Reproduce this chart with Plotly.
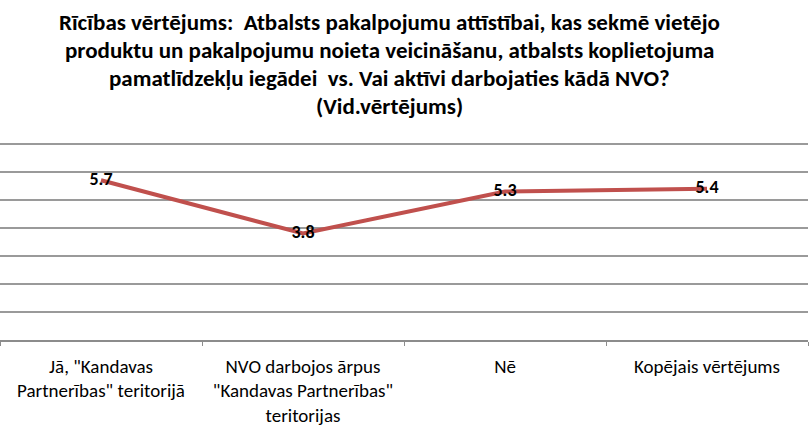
import plotly.graph_objects as go

categories = [
    'Jā, "Kandavas<br>Partnerības" teritorijā',
    'NVO darbojos ārpus<br>"Kandavas Partnerības"<br>teritorijas',
    'Nē',
    'Kopējais vērtējums',
]
values = [5.7, 3.8, 5.3, 5.4]
title_lines = [
    "Rīcības vērtējums:  Atbalsts pakalpojumu attīstībai, kas sekmē vietējo",
    "produktu un pakalpojumu noieta veicināšanu, atbalsts koplietojuma",
    "pamatlīdzekļu iegādei  vs. Vai aktīvi darbojaties kādā NVO?",
    "(Vid.vērtējums)",
]

FONT = "Carlito, 'Liberation Sans Narrow', 'Open Sans', sans-serif"
T, B = 141, 85
PH = 425 - T - B

fig = go.Figure()
fig.add_trace(go.Scatter(
    x=categories, y=values, mode="lines+text",
    line=dict(color="#C0504D", width=4),
    text=[f"{v:.1f}" for v in values],
    textposition="middle center",
    textfont=dict(family=FONT, size=18, color="black", weight="bold"),
    cliponaxis=False, hoverinfo="skip",
))

for i, line in enumerate(title_lines):
    fig.add_annotation(
        text=f"<b>{line}</b>", xref="paper", yref="paper",
        x=390/809, xanchor="center",
        y=(425 - B - (22 + 28 * i)) / PH, yanchor="middle",
        showarrow=False, font=dict(family=FONT, size=23, color="black"),
    )

fig.update_layout(
    width=809, height=425,
    margin=dict(l=0, r=1, t=T, b=B),
    paper_bgcolor="white", plot_bgcolor="white",
    showlegend=False,
    font=dict(family=FONT, color="black"),
)
fig.update_xaxes(
    type="category", range=[-0.5, 3.5], automargin=False,
    showgrid=False, showline=True, linecolor="#8c8c8c", linewidth=1.5,
    ticks="outside", tickson="boundaries", ticklen=4, tickcolor="#8c8c8c",
    ticklabelstandoff=8,
    tickfont=dict(family=FONT, size=19, color="black"),
)
fig.update_yaxes(
    range=[0, 7.1], dtick=1, showgrid=True, gridcolor="#9a9a9a", gridwidth=1.5,
    showticklabels=False, zeroline=False, showline=False, automargin=False,
)

fig.write_html("out.html", config={"displayModeBar": False},
               post_script="document.body.style.margin='0';")
